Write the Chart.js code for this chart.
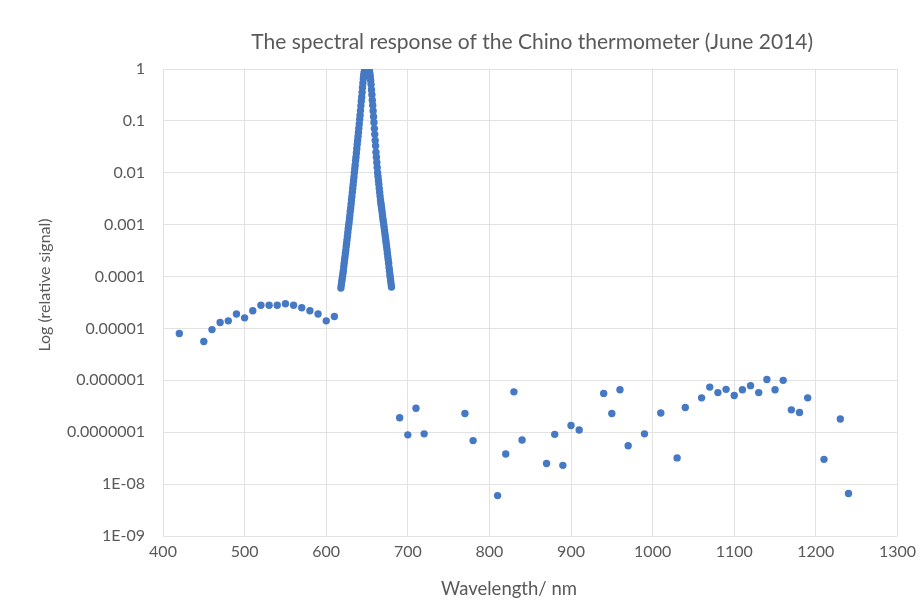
<!DOCTYPE html>
<html>
<head>
<meta charset="utf-8">
<script src="https://cdn.jsdelivr.net/npm/chart.js@4"></script>
<style>
html,body{margin:0;padding:0;background:#fff;}
#wrap{width:922px;height:610px;position:relative;}
</style>
</head>
<body>
<div id="wrap"><canvas id="c" width="922" height="610"></canvas></div>
<script>
// Visible-range background (400-620 nm)
const blueWavelengths = [420,450,460,470,480,490,500,510,520,530,540,550,560,570,580,590,600,610];
const blueSignal = [8.0e-6,5.6e-6,9.5e-6,1.3e-5,1.4e-5,1.9e-5,1.6e-5,2.2e-5,2.8e-5,2.8e-5,2.8e-5,3.0e-5,2.8e-5,2.5e-5,2.2e-5,1.9e-5,1.4e-5,1.7e-5];

// Main response peak (~618-680 nm)
const peakWavelengths = [618,618.5,619,619.5,620,620.5,621,621.5,622,622.5,623,623.5,624,624.5,625,625.5,626,626.5,627,627.5,628,628.5,629,629.5,630,630.5,631,631.5,632,632.5,633,633.5,634,634.5,635,635.5,636,636.5,637,637.5,638,638.5,639,639.5,640,640.5,641,641.5,642,642.5,643,643.5,644,644.5,645,645.5,646,646.5,647,647.5,648,648.5,649,649.5,650,650.5,651,651.5,652,652.5,653,653.5,654,654.5,655,655.5,656,656.5,657,657.5,658,658.5,659,659.5,660,660.5,661,661.5,662,662.5,663,663.5,664,664.5,665,665.5,666,666.5,667,667.5,668,668.5,669,669.5,670,670.5,671,671.5,672,672.5,673,673.5,674,674.5,675,675.5,676,676.5,677,677.5,678,678.5,679,679.5,680];
const peakSignal = [6.0e-5,6.9e-5,7.9e-5,8.9e-5,1.0e-4,1.15e-4,1.3e-4,1.55e-4,1.8e-4,2.1e-4,2.4e-4,2.8e-4,3.2e-4,3.8e-4,4.4e-4,5.1e-4,6.0e-4,7.1e-4,8.3e-4,9.6e-4,1.1e-3,1.3e-3,1.5e-3,1.8e-3,2.1e-3,2.5e-3,3.0e-3,3.5e-3,4.2e-3,5.0e-3,5.9e-3,7.0e-3,8.3e-3,1.0e-2,1.2e-2,1.4e-2,1.7e-2,2.0e-2,2.4e-2,2.9e-2,3.5e-2,4.2e-2,5.0e-2,6.0e-2,7.2e-2,8.7e-2,0.107,0.129,0.158,0.195,0.24,0.29,0.355,0.44,0.54,0.65,0.76,0.85,0.91,0.95,0.98,0.99,1.0,1.0,1.0,1.0,0.99,0.98,0.96,0.93,0.89,0.81,0.71,0.60,0.50,0.40,0.32,0.25,0.20,0.155,0.12,0.093,0.071,0.055,0.042,0.033,0.025,0.020,0.0158,0.0126,0.010,0.0085,0.0071,0.0060,0.0050,0.0042,0.00355,0.0030,0.0026,0.0023,0.0020,0.00175,0.0015,0.0013,0.00115,0.0010,8.7e-4,7.6e-4,6.6e-4,5.8e-4,5.0e-4,4.4e-4,3.8e-4,3.3e-4,2.8e-4,2.4e-4,2.1e-4,1.8e-4,1.5e-4,1.3e-4,1.1e-4,9.6e-5,8.3e-5,7.2e-5,6.3e-5];

// Near-infrared leakage (690-1240 nm)
const irWavelengths = [690,700,710,720,770,780,810,820,830,840,870,880,890,900,910,940,950,960,970,990,1010,1030,1040,1060,1070,1080,1090,1100,1110,1120,1130,1140,1150,1160,1170,1180,1190,1210,1230,1240];
const irSignal = [1.9e-7,8.9e-8,2.9e-7,9.3e-8,2.3e-7,6.9e-8,6.0e-9,3.8e-8,6.0e-7,7.1e-8,2.5e-8,9.1e-8,2.3e-8,1.35e-7,1.1e-7,5.6e-7,2.3e-7,6.6e-7,5.5e-8,9.3e-8,2.35e-7,3.2e-8,3.0e-7,4.6e-7,7.4e-7,5.8e-7,6.7e-7,5.1e-7,6.6e-7,7.9e-7,5.8e-7,1.04e-6,6.6e-7,1.0e-6,2.7e-7,2.4e-7,4.6e-7,3.0e-8,1.8e-7,6.6e-9];

const yTickValues = [1,0.1,0.01,0.001,0.0001,0.00001,0.000001,0.0000001,1e-8,1e-9];
const yTickLabels = ["1","0.1","0.01","0.001","0.0001","0.00001","0.000001","0.0000001","1E-08","1E-09"];

const chartTitle = "The spectral response of the Chino thermometer (June 2014)";
const xTitle = "Wavelength/ nm";
const yTitle = "Log (relative signal)";

const toPts = (xs, ys) => xs.map((x, i) => ({x: x, y: ys[i]}));
const points = [].concat(
  toPts(blueWavelengths, blueSignal),
  toPts(peakWavelengths, peakSignal),
  toPts(irWavelengths, irSignal)
);

const txt = '#595959';
const grid = '#e2e2e2';
const fontFam = 'Lato, "Open Sans", sans-serif';

const textPlugin = {
  id: 'texts',
  afterDraw(chart) {
    const ctx = chart.ctx;
    const ca = chart.chartArea;
    ctx.save();
    ctx.fillStyle = txt;
    ctx.textAlign = 'center';
    ctx.textBaseline = 'middle';
    ctx.font = '21px ' + fontFam;
    ctx.fillText(chartTitle, (ca.left + ca.right) / 2 + 2, 42);
    ctx.font = '18.5px ' + fontFam;
    ctx.fillText(xTitle, 509, 589);
    ctx.translate(45, 285);
    ctx.rotate(-Math.PI / 2);
    ctx.font = '16px ' + fontFam;
    ctx.fillText(yTitle, 0, 0);
    ctx.restore();
  }
};

new Chart(document.getElementById('c'), {
  type: 'scatter',
  data: {
    datasets: [{
      data: points,
      backgroundColor: '#4679c3',
      borderColor: '#4679c3',
      pointRadius: 3.7,
      pointBorderWidth: 0
    }]
  },
  options: {
    responsive: false,
    animation: false,
    devicePixelRatio: 1,
    layout: {padding: {left: 0, right: 20, top: 69, bottom: 0}},
    plugins: {
      legend: {display: false},
      tooltip: {enabled: false},
      title: {display: false}
    },
    scales: {
      x: {
        type: 'linear',
        min: 400, max: 1300,
        ticks: {stepSize: 100, color: txt, font: {family: fontFam, size: 16}, padding: 6, maxRotation: 0,
          callback: v => String(v)},
        grid: {color: grid, drawTicks: false},
        border: {display: false},
        afterFit: s => { s.height = 74; }
      },
      y: {
        type: 'logarithmic',
        min: 1e-9, max: 1,
        afterBuildTicks: s => { s.ticks = yTickValues.map(v => ({value: v})); },
        ticks: {
          color: txt, font: {family: fontFam, size: 16}, padding: 18,
          callback: (v) => { const i = yTickValues.findIndex(t => Math.abs(Math.log10(t) - Math.log10(v)) < 1e-6); return i >= 0 ? yTickLabels[i] : ''; }
        },
        grid: {color: grid, drawTicks: false},
        border: {display: false},
        afterFit: s => { s.width = 163; }
      }
    }
  },
  plugins: [textPlugin]
});
</script>
</body>
</html>
